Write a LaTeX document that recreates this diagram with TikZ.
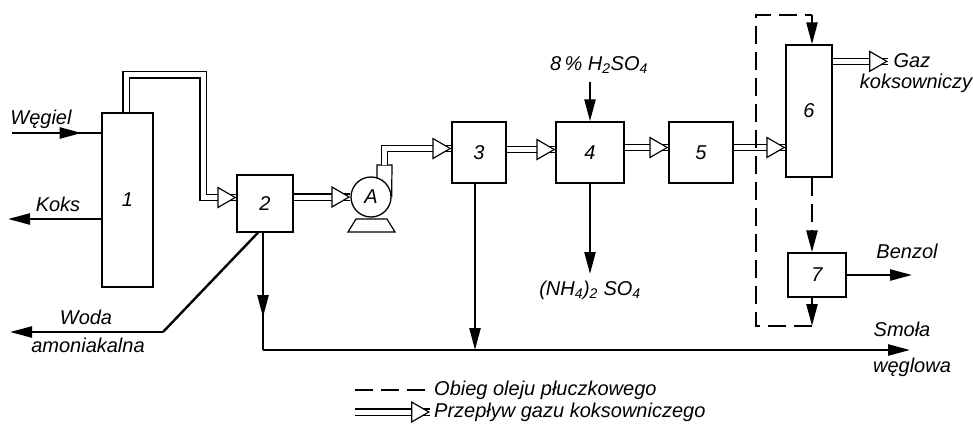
\documentclass[tikz,border=0pt]{standalone}
\usepackage{fontspec}
\setmainfont{Liberation Sans}
\usepackage{tikz}
\usetikzlibrary{arrows.meta, decorations.markings}
\tikzstyle{unit} = [draw, line width=1.3pt, inner sep=0pt]
\tikzstyle{line} = [line width=2.4pt]
\tikzstyle{flow} = [line width=2.4pt, -{Triangle[length=22pt,width=11pt]}]
\tikzstyle{gas} = [line width=1.3pt, double, double distance=5pt, postaction={decorate},
    decoration={markings, mark=at position 1 with {
        \fill (0pt,0pt) -- (-19pt,11pt) -- (-19pt,-11pt) -- cycle;
        \fill[white] (-2.6pt,0pt) -- (-17.7pt,8.7pt) -- (-17.7pt,-8.7pt) -- cycle;}}]
\tikzstyle{oil} = [line width=2.6pt, dash pattern=on 18pt off 8pt]
\tikzstyle{txt} = [inner sep=1pt]
\tikzstyle{midarrow} = [postaction={decorate}, decoration={markings,
    mark=at position #1 with {\arrow{Triangle[length=22pt,width=11pt]}}}]

\begin{document}
\begin{tikzpicture}[x=1pt, y=-1pt, font=\fontsize{20}{22}\selectfont\itshape]
    \useasboundingbox (0,0) rectangle (973,425);

    % Units
    \node[unit, minimum width=51pt, minimum height=174pt] (b1) at (127.5,200) {1};
    \node[unit, minimum width=56pt, minimum height=57pt] (b2) at (265,203.5) {2};
    \node[unit, circle, minimum size=40pt] (pump) at (371,197) {A};
    \node[unit, minimum width=54pt, minimum height=61pt] (b3) at (479,152.5) {3};
    \node[unit, minimum width=68pt, minimum height=61pt] (b4) at (590,152.5) {4};
    \node[unit, minimum width=64pt, minimum height=61pt] (b5) at (701,152.5) {5};
    \node[unit, minimum width=46pt, minimum height=132pt] (b6) at (809,111) {6};
    \node[unit, minimum width=58pt, minimum height=44pt] (b7) at (817,275) {7};

    % pump base and outlet
    \draw[line width=1.2pt] (356,219) -- (348,232) -- (395,232) -- (387,219) -- cycle;
    \draw[line width=1.2pt] (377,178) |- (392,165) -- (pump.east);

    % Texts
    \node[txt] (wegiel) at (41,119) {Węgiel};
    \node[txt] (koks) at (58,204) {Koks};
    \node[txt] (woda) at (86,317) {Woda};
    \node[txt] (amon) at (88,345) {amoniakalna};
    \node[txt] (acid) at (599,65) {8\,\% H\textsubscript{2}SO\textsubscript{4}};
    \node[txt] (salt) at (590,290) {(NH\textsubscript{4})\textsubscript{2} SO\textsubscript{4}};
    \node[txt] (gaz) at (912,61) {Gaz};
    \node[txt] (koksow) at (916,83) {koksowniczy};
    \node[txt] (benzol) at (907,251) {Benzol};
    \node[txt] (smola) at (902,329) {Smoła};
    \node[txt] (weglowa) at (912,367) {węglowa};
    \node[txt, anchor=west] (leg1) at (433,390) {Obieg oleju płuczkowego};
    \node[txt, anchor=west] (leg2) at (433,412) {Przepływ gazu koksowniczego};

    % free ends
    \coordinate (wegielin) at (12,133);
    \coordinate (koksout) at (8,219);
    \coordinate (wodabend) at (163,332);
    \coordinate (wodaout) at (10,332);
    \coordinate (tar2) at (263,350);
    \coordinate (tar3) at (475,350);
    \coordinate (tarout) at (910,350);
    \coordinate (acidin) at (590,82);
    \coordinate (saltout) at (590,274);
    \coordinate (benzolout) at (912,275);
    \coordinate (pipe1) at (126,75);
    \coordinate (pipe2) at (203,75);
    \coordinate (outlet) at (384.5,165);
    \coordinate (g6) at ([yshift=-17pt]b6.north east);
    \coordinate (loop) at (812,0);
    \coordinate (loopa) at (756,15);
    \coordinate (loopb) at (756,326);

    % Edges
    \draw[line, midarrow=0.78] (wegielin) -- (wegielin -| b1.west);
    \draw[flow] (b1.west |- koksout) -- (koksout);
    \draw[gas] (pipe1 |- b1.north) -- (pipe1) -- (pipe2) |- ([yshift=6pt]b2.west);
    \draw[gas] (b2.east |- pump) -- (pump.west);
    \draw[gas] (outlet) |- ([yshift=4pt]b3.west);
    \draw[gas] ([yshift=3pt]b3.east) -- ([yshift=3pt]b4.west);
    \draw[gas] ([yshift=5pt]b4.east) -- ([yshift=5pt]b5.west);
    \draw[gas] ([yshift=5pt]b5.east) -- (b6.west |- 0,147.5);
    \draw[gas] (g6) -- (g6 -| 888,0);
    \draw[line] ([xshift=-7pt]b2.south) -- (wodabend);
    \draw[flow] (wodabend) -- (wodaout);
    \draw[line, midarrow=0.72] (tar2 |- b2.south) -- (tar2);
    \draw[flow] (tar2) -- (tarout);
    \draw[flow] (tar3 |- b3.south) -- (tar3);
    \draw[flow] (acidin) -- (b4.north);
    \draw[flow] (b4.south) -- (saltout);
    \draw[flow] (b7.east) -- (benzolout);

    % oil circuit
    \draw[oil, -{Triangle[length=22pt,width=11pt]}] (loop |- b6.south) -- (loop |- b7.north);
    \draw[flow] (loop |- b7.south) -- (loop |- loopb);
    \draw[oil] (loop |- loopb) -- (loopb) -- (loopa) -- (loop |- loopa);
    \draw[flow] (loop |- loopa) -- (loop |- b6.north);

    % legend
    \coordinate (leg1a) at (355,390);
    \coordinate (leg2a) at (355,412);
    \draw[oil] (leg1a) -- (leg1a -| 428,0);
    \draw[gas] (leg2a) -- (leg2a -| 430,0);
\end{tikzpicture}
\end{document}
